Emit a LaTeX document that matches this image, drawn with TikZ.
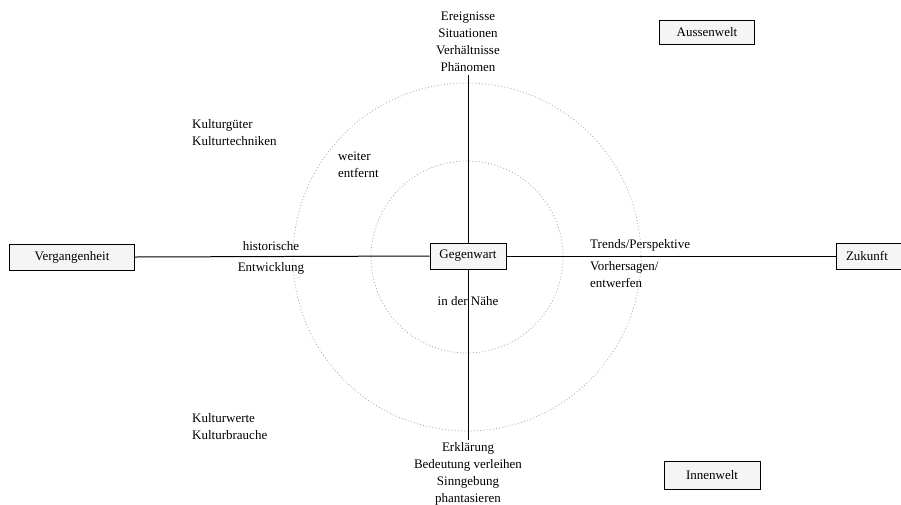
\documentclass[tikz,border=0pt]{standalone}
\usepackage{fontspec}
\setmainfont{Liberation Serif}
\usetikzlibrary{positioning,calc}

\tikzset{
	feld/.style={draw,line width=0.9pt,fill=gray!8,minimum height=26pt,inner sep=2pt},
	ring/.style={gray!70,line width=0.7pt,dash pattern=on 1pt off 2.2pt},
	achse/.style={line width=1pt},
	txt/.style={align=left,inner sep=0pt},
	txtc/.style={align=center,inner sep=0pt}
}

\begin{document}
\begin{tikzpicture}[x=1pt,y=-1pt,font=\fontsize{13}{17}\selectfont]
	\useasboundingbox (0,0) rectangle (901,504);
	% the two rings
	\draw [ring] (467,257) circle (174);
	\draw [ring] (467,257) circle (96);
	% boxes
	\node [feld,minimum width=76pt] (gegenwart) at (468,256) {Gegenwart};
	\node [feld,minimum width=125pt] (vergangenheit) at (72,257) {Vergangenheit};
	\node [feld,minimum width=70pt,text width=50pt] (zukunft) at (871,256) {Zukunft};
	\node [feld,minimum width=95pt,minimum height=24pt] (aussenwelt) at (707,32) {Aussenwelt};
	\node [feld,minimum width=96pt,minimum height=28pt] (innenwelt) at (712,475) {Innenwelt};
	\coordinate (oben) at (468,75);
	\coordinate (unten) at (468,440);
	% axes
	\draw [achse] (vergangenheit.east) -- (gegenwart.west);
	\draw [achse] (gegenwart.east) -- (zukunft.west);
	\draw [achse] (oben) -- (gegenwart.north);
	\draw [achse] (gegenwart.south) -- (unten);
	% labels
	\node [txtc] (aussen) at (468,42) {Ereignisse\\Situationen\\Verhältnisse\\Phänomen};
	\node [txtc] (innen) at (468,474) {Erklärung\\Bedeutung verleihen\\Sinngebung\\phantasieren};
	\node [txt,anchor=west] (gueter) at (192,133) {Kulturgüter\\Kulturtechniken};
	\node [txt,anchor=west] (werte) at (192,427) {Kulturwerte\\Kulturbrauche};
	\node [txt,anchor=west] (weiter) at (338,165) {weiter\\entfernt};
	\node [txtc] (hist) at (271,246) {historische};
	\node [txtc] (entw) at (271,268) {Entwicklung};
	\node [txt,anchor=west] (trends) at (590,245) {Trends/Perspektive};
	\node [txt,anchor=west] (vorher) at (590,275) {Vorhersagen/\\entwerfen};
	\node [txtc] (naehe) at (468,301) {in der Nähe};
\end{tikzpicture}
\end{document}
